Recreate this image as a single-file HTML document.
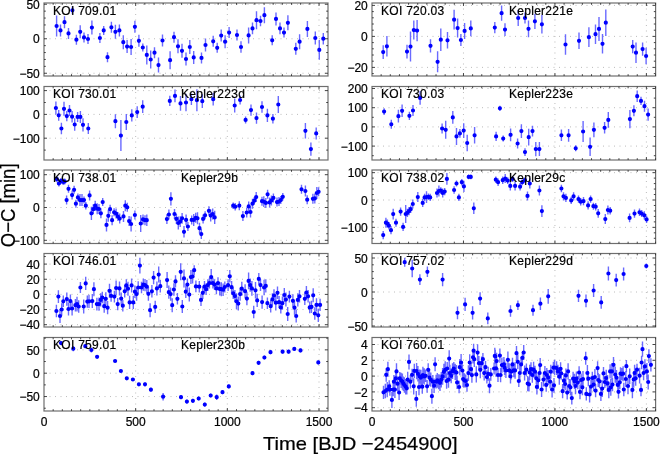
<!DOCTYPE html>
<html><head><meta charset="utf-8"><style>
html,body{margin:0;padding:0;background:#fff;}
body{width:660px;height:454px;overflow:hidden;}
svg{display:block;will-change:transform;}
text{font-family:"Liberation Sans",sans-serif;fill:#000;stroke:#000;stroke-width:0.22px;}
.tl{font-size:12px;}
.pl{font-size:12px;letter-spacing:0.28px;}
.ax{font-size:18.5px;}
</style></head><body>
<svg width="660" height="454" viewBox="0 0 660 454">
<path d="M135.67 3V76M227.33 3V76M319 3V76M44 4.25H328M44 38.75H328M44 73.25H328M135.67 86.5V160M227.33 86.5V160M319 86.5V160M44 90.6H328M44 114.4H328M44 138.2H328M135.67 170V243.5M227.33 170V243.5M319 170V243.5M44 174.7H328M44 207.5H328M44 240.3H328M135.67 253.5V327M227.33 253.5V327M319 253.5V327M44 264.1H328M44 279.25H328M44 294.4H328M44 309.55H328M44 324.7H328M135.67 337.5V411M227.33 337.5V411M319 337.5V411M44 349.85H328M44 373.2H328M44 396.55H328M463.47 3V76M554.93 3V76M646.4 3V76M372 5.4H655.6M372 36.4H655.6M372 67.4H655.6M463.47 86.5V160M554.93 86.5V160M646.4 86.5V160M372 88.5H655.6M372 107.7H655.6M372 126.9H655.6M372 146.1H655.6M463.47 170V243.5M554.93 170V243.5M646.4 170V243.5M372 172.65H655.6M372 200H655.6M372 227.35H655.6M463.47 253.5V327M554.93 253.5V327M646.4 253.5V327M372 258H655.6M372 292H655.6M372 326H655.6M463.47 337.5V411M554.93 337.5V411M646.4 337.5V411M372 344.5H655.6M372 360.3H655.6M372 376.1H655.6M372 391.9H655.6M372 407.7H655.6" stroke="#b4b4b4" stroke-width="0.9" stroke-dasharray="1 4.5" fill="none"/>
<path d="M56.6 15.5V36.5M60.5 24.4V36.4M64.5 16.2V28.2M68.5 27.9V38.9M72.4 6.3V14.3M76.4 34.7V44.7M80.2 25.3V38.3M84 32.4V42.4M88 34V44M91.9 20.6V34.6M99.9 33V43M103.7 25.9V34.9M107.5 52.2V62.2M111.4 21.8V32.8M115.4 24.8V38.8M119.4 24.4V36.4M123.3 35.2V49.2M127.1 40.1V53.1M131.1 39V55M134.9 20.8V32.8M138.9 34.8V46.8M142.8 43.5V51.5M146.8 45.4V64.4M150.7 50.5V68.5M154.5 47.2V58.2M158.5 57.6V72.6M162.5 34.5V46.5M170.1 51.2V69.2M174 31.7V42.7M178 39.3V53.3M182 43.8V57.8M186 52.5V65.5M189.8 40V54M193.7 50.9V63.9M201.5 52.4V63.4M205.5 38.5V51.5M213.2 35.8V46.8M217.2 42.8V52.8M221.2 29.6V41.6M225.1 35.2V48.2M229.1 27.1V38.1M237 29.5V40.5M241 41.2V52.8M248.6 27.4V43.4M252.5 22.6V34.2M256.5 11.2V29.2M260.5 15.8V26.2M264.4 7.2V23.2M272.2 35.3V45.3M276 12.4V25.4M280 22.6V34.2M284 27.6V37.6M287.9 15.3V30.3M295.8 42.8V54.8M299.6 34.2V49.2M307.4 20.9V36.9M315.3 31.4V44.6M319.3 40.1V59.7M323.3 32.9V44.5M55.9 101.6V114.4M58.7 109.9V120.7M61.4 122.7V134.3M64 101.8V115.8M66.8 110.9V121.3M69.5 105.1V115.9M72.1 110.9V122.5M74.7 118.3V130.7M77.6 111.9V121.9M80.4 110.9V122.9M83 118.2V131.4M88.3 123.1V133.9M115.4 114.2V128.2M120.9 120.1V151.1M126.3 114V130M131.8 109.2V121.6M137.2 106.3V117.9M142.7 100.3V113.1M169.8 95.7V106.1M175 89.6V102.2M180.5 96.1V110.7M186 93.8V111.2M191.4 93.4V105M196.9 89.2V111.2M202.3 94.3V108.1M213.2 92.8V105.6M234.7 98.5V112.5M240.1 95.5V104.5M245.6 116.4V123.4M251 104.5V115.7M256.5 112.5V123.7M262 101.2V112.8M267.4 108.8V122M272.9 113.9V123.5M278.3 96.1V112.9M305.4 123.1V138.5M310.9 142.5V155.7M316.2 127.4V139.4M56.9 176.2V182.2M58.9 180.5V186.5M61 177.9V183.9M63.2 178.9V184.9M64.7 178.4V184.4M68.5 184.8V192.8M66.6 195.6V204.6M72.1 190.6V199.6M74.1 185.8V193.8M75.9 199.7V207.7M77.9 193.4V201.4M80 194.1V206.1M82 194.1V206.1M84 196.6V203.6M85.8 201.9V209.5M89.6 190.4V200.4M91.4 206.7V219.9M93.3 204.2V214.2M95.2 200.7V210.7M97.2 203.2V214.2M99 204V214M100.9 208.3V218.3M102.7 198.1V206.1M106.5 218.4V231.4M108.3 209.8V221.8M110.1 204.7V213.7M112.1 215.2V225.2M114.1 208.3V216.3M116.1 208.6V218.6M117.9 212.1V221.1M119.7 213.6V223.6M123.5 210.9V221.9M125.3 200.2V211.2M127.3 202.8V211.8M129.1 216.1V226.1M131.1 216.5V231.5M134.9 210.5V219.5M140.7 215V232M143 214.4V224.4M145 215.2V225.2M146.8 214.4V226M166.9 214.3V223.9M168.9 209.5V219.5M170.9 192.2V205.4M174.5 209V219M176.4 213.9V223.9M178.3 216.4V229.6M180.2 216.2V227M182.1 212.9V223.7M184 226V237.6M186.1 214.5V225.3M187.9 222V231M191.7 215.4V224.4M193.7 213.9V225.9M195.7 212.8V222.8M197.5 212.3V224.3M199.5 222.8V233.6M201.3 229.1V239.1M203.1 214.4V223.4M205.1 211.3V219.3M208.9 206.3V215.3M210.7 209.6V221.6M212.7 208.6V219.4M214.7 210.8V224M233.2 202.4V209M235.2 203V210.4M239.3 201.2V210.2M242.9 211.1V221.1M246.7 207.5V217.5M248.7 201.4V211.4M250.5 206.6V217.4M252.5 198.7V208.7M254.3 196.9V204.5M256.2 192.1V202.1M262 196.7V205.7M263.8 196.2V207M265.8 197.9V207.9M267.6 189.8V198.8M269.6 197.4V207.4M271.4 195.4V205.4M273.4 193.4V202.4M277 197.6V206.6M279 197.1V206.1M280.8 196.1V204.1M282.8 193V200.6M301.5 184.8V193.8M305.4 185.6V196.4M307.2 195.2V204.2M312.9 193.8V203.8M314.8 193.4V203.4M316.8 187V199M318.6 187.3V196.3M56.4 304.7V317.3M58.4 290.2V303M60 309V323M61.7 303.3V315.7M63.3 295.5V307.1M66.8 292.5V305.7M68.5 302.4V315.6M70.4 294.5V307.7M72.1 301.5V315.5M75.4 299V311.4M77 296.7V311.5M78.7 300.3V312.7M80.4 282.1V292.9M83.7 299.5V313.5M85.7 276.8V290M87.3 295.4V307.8M89 294.7V307.9M92.3 294.1V308.1M93.9 282.2V296.2M96.9 297.7V310.5M99 297.5V310.7M100.7 293.3V306.5M102.3 291.7V303.3M104.2 299.6V312.8M105.8 292.2V305.4M107.6 301.1V314.3M109.5 283.8V297.8M111.1 289.8V301.8M114.4 290.8V302.4M116.1 280.6V295.4M117.7 297.9V310.3M119.5 281.4V295.4M121.2 292.4V304.8M122.8 299.9V311.5M124.7 285.1V297.5M126.3 279.2V291.6M128 281.7V295.7M129.6 295.8V309M131.6 278.4V292.4M133.3 295.8V309M134.9 285.5V297.9M136.6 287.5V300.7M138.2 281.3V293.7M139.9 257.8V273.4M141.5 281.7V293.3M143.3 278.4V290.8M145 278.9V291.3M146.8 280.1V293.3M148.4 286.8V300.8M150.1 303.2V317.2M151.9 285.1V297.5M153.6 271V284.2M155.2 300.7V313.1M156.9 281.4V295.4M158.7 266.6V282.6M160.3 280V292.4M167.1 272.1V288.1M168.8 285.6V298.8M170.6 287.5V300.7M172.2 298.2V312.2M173.9 283.3V295.7M175.5 275.2V287.6M177.4 293V304.6M180.7 263.3V280.3M182.3 299.9V313.1M184 269.4V287.4M185.8 285.5V297.9M187.4 278.4V290.8M189.3 287.6V301.6M190.9 270.1V284.1M192.6 269.5V283.5M194.2 265.2V275.2M195.9 280.6V292.2M199.3 280.9V292.5M201 293.7V306.1M202.8 286.6V299M204.5 280.9V292.5M206.1 283.4V295M207.8 279.3V290.9M209.4 277.7V288.5M211.2 269.1V285.1M212.9 277.7V288.5M214.5 279.2V290M216.4 282.6V294.2M218 277.3V288.9M219.7 282.3V295.5M221.3 282.2V296.2M223.1 283.5V295.9M224.8 281.6V292.4M228.1 279.3V290.9M229.8 270.1V282.5M231.6 281V293.4M233.2 287.5V299.1M234.9 289.9V302.3M236.5 293.3V309.3M238.3 296.6V310.6M240.1 287.5V300.7M241.8 281.7V295.7M245.1 284.2V298.2M246.9 292V305.2M248.6 272.6V289.2M250.2 278.5V291.7M251.9 281V295.8M253.7 305.8V318.2M255.5 282V298.6M257.2 293.8V307M258.8 273.1V284.7M260.5 279.3V290.9M262.1 295.5V308.7M264.1 279.7V295.3M265.8 279.3V292.5M267.4 297.4V309M270.7 300V312.4M272.4 293.2V305.6M274 289.3V301.7M275.8 294.9V310.5M277.5 286.6V299M279.1 295.9V308.3M280.8 301.2V313.6M282.4 296.6V309.8M284.3 288V302M285.9 292.6V306.6M287.7 307V321M289.4 290.8V302.4M292.9 294.2V307.4M294.5 300.7V314.7M296.2 309.4V322.6M297.8 293.3V306.5M299.5 290.1V302.5M304.8 292.6V305M306.4 285.9V299.1M308.1 290.1V302.5M309.7 301.6V313.2M311.5 300.7V313.1M313.2 288.3V302.3M314.8 307.3V319.7M316.5 298.3V311.5M318.3 308.7V321.9M320.1 298.7V311.1M61 341.1V345.1M73.3 346.2V351.2M85.3 344.2V348.2M91.4 347.5V352.5M97.1 355.3V358.3M115.1 359.5V362.5M120.9 369.5V372.5M126.8 376.8V379.8M132.9 378V381M138.9 382.8V385.8M145 382.3V386.3M150.9 387.7V391.7M163.1 393V400.4M181 395.2V399.2M186.9 399.6V403.6M192.9 398.8V402.8M198.7 396.5V400.5M204.8 402.6V406.6M210.7 393.5V397.5M216.7 394.4V400M222.5 390.2V394.2M228.8 384.4V388.4M252.5 371.2V375.2M258.6 360.8V364.8M264.4 355.5V359.5M270.5 350.2V354.2M282.6 349.7V353.7M288.6 349.7V353.7M294.3 346.9V350.9M300.5 348.4V352.4M318.3 360.4V364.4M383.2 45.2V59M386.9 36V56.6M407 44.7V58.5M410.5 31.6V61.6M413.8 20.6V39.6M417.1 19.9V41.3M430.5 39.2V52.4M437.6 51.3V72.3M440.8 28.4V51M447.5 32.1V48.5M454.1 9.8V29.6M457.6 18.6V37.6M460.9 34V46M464.6 22.9V38.9M470.8 20.6V36.2M494.8 22V33.2M501.6 5.6V20.8M505 23.2V36M518.2 10V26M525 12.6V23.4M528.5 20.4V37.2M534.9 13.7V28.9M541.9 15V33.6M565.5 34.2V54.8M579 32.5V49.1M588.9 27.3V47.1M595.5 24.5V43.9M599 16.9V40.9M602.5 34.1V53.5M605.8 9.5V35.9M632.7 40V53.2M636 42.4V63M642.6 42.5V55.7M646.1 47.7V64.3M384.1 108.3V114.9M391.3 119.8V128.8M398.4 109.8V122.6M402.1 104.6V117M409.4 111.7V119.9M413 105.1V115.9M420.1 91V104.8M442.1 123.5V133.5M445.7 120.8V138.8M452.8 111.1V123.7M456.5 127.9V144.9M459.9 129V137.8M463.7 123.2V138M467.2 134.7V151.3M474.6 127V143.6M496.1 131.7V141.1M499.9 105.8V110.8M503.2 135.6V141.6M510.6 128.4V141.2M517.6 138.4V148.6M521.4 124.2V138M525 148.2V156M528.7 128.8V145.6M532.5 125.7V136.5M535.8 141.9V156.3M539.4 142.1V156.1M561.4 129.5V141.1M568.6 128.9V141.7M575.7 145.3V151.3M583.1 121.1V141.9M590.1 137.5V156.1M593.9 122.4V137.2M604.6 122V133.6M608.3 112V127.8M629.9 110V128.2M633.9 105.3V116.3M637.2 90.4V102M641 96.8V105M644.5 100.7V111.7M648.1 108.4V120.8M383.2 231V239.2M385.9 217.7V227.7M387.4 219.5V227.5M388.9 222V229.4M391 226.1V234.3M393.2 208.7V219.5M396 218.7V226.7M400.6 207.5V215.7M403.1 222.8V231M405.7 205V223M407.4 208.7V216.9M409 207V215.2M410.7 205.5V212.9M412.8 199.6V208.4M417.8 192.1V202.1M422.7 198.8V207M424.6 193.7V201.1M426.5 191.3V202.9M428.4 193.5V200.1M430.2 193.7V201.1M437 188.5V197.5M438.9 185.5V196.5M440.8 187.2V193.8M442.7 188.5V197.5M444.7 187.9V195.3M446.9 173.1V184.7M454.1 186.3V193.7M456.5 180.4V186.6M458.9 193.7V201.1M461.8 178.9V185.5M463.9 180.8V192M468.7 174.6V179.2M470.8 174.6V179.2M473.8 202.5V214.1M495.8 176.4V183M498.1 178.5V185.9M502.7 176.5V183.9M505.2 174.1V183.1M507.7 177.3V183.9M510.3 181.4V190.4M512.6 175.9V181.9M515.1 181.4V190.4M520.1 183V190.4M522.2 179.2V185.2M525 177.2V183.2M527.5 191.4V200.4M529.8 178.5V188.5M539.4 185.4V195.6M541.9 205.3V216.9M561.4 184.8V192.2M563.5 192.2V200.4M565.9 193.8V202M571.2 196.7V204.1M573.6 192.2V200.4M578.5 195.4V202.8M580.7 198V205.4M583.5 197.1V205.3M588.1 201.3V209.5M590.6 195.4V202.8M593.4 202.7V209.7M595.7 203V210.4M598.2 208.9V217.7M605.3 214.1V224.1M607.9 205.5V214.5M610.2 207V214.4M629.6 213.6V222.2M634.5 209.5V217.7M639.5 208.6V216M641.7 210.1V217.1M644.3 211.2V219.4M646.6 215.7V223.1M404.7 257.7V266.7M412.2 259.7V277.3M419.9 274.2V285M427.4 266.5V277.1M442.6 273V286.2M457.5 306.4V319.2M465.1 297.8V311M472.6 306.2V319.4M480.1 292.2V305M487.8 312.6V324.2M510.5 305.2V316.8M517.9 300.4V310M533 304.7V315.7M540.4 297.5V309.9M548.2 288.9V303.7M578.5 289.7V301.9M586 294.4V307.2M593.6 284.1V296.9M601.2 296V308.8M608.4 266.5V280.5M616.2 273.8V286.4M623.6 267.6V280.4M646.3 263.5V268.5M383.5 385.71V398.89M385.3 383.64V398.36M386.2 367.88V381.72M387.9 361.69V376.71M387.2 382.04V397.16M389.2 380.14V392.46M389.9 383.57V395.63M391.9 391.81V407.99M393.2 382.95V396.25M393.9 375.11V388.29M394.9 381.11V398.09M395.8 371.22V385.58M396.5 363.31V379.49M397.6 376.51V390.89M399.1 384.9V400.1M399.8 372.02V384.78M401.1 372.81V387.99M402.4 373.53V389.87M403.4 376.39V391.01M404.4 377.15V392.85M405.7 379.02V394.38M406.8 382.14V394.46M407.7 371.8V387.6M409 354.42V369.38M410.4 374.95V388.45M412.1 368.72V380.88M413.7 378.14V394.46M414.3 363.72V378.08M416.3 391.1V406.7M416.6 362.9V379.3M417.9 366.01V381.59M419 378.7V395.3M419.6 369.41V383.39M420.9 369.7V385.7M422.3 379.59V393.81M422.9 366.76V383.44M424.2 368.2V384.6M425.6 369.56V382.04M427.1 379.96V392.64M428.2 363.26V376.34M429.5 369.29V386.11M430.8 372.61V386.79M431.9 388.63V403.77M432.8 374.95V388.45M434.1 378.43V392.97M435.1 357.34V371.26M436.1 374.82V388.58M437.3 372.94V387.86M438.6 374.24V389.16M440 374.54V391.06M441.3 372V387.4M442.6 368.08V384.72M443.9 363.66V379.94M445.2 361.32V378.28M446.6 373.32V388.68M447.2 362.09V374.91M448.5 371.55V387.85M449.2 350.19V367.01M449.9 364.84V381.36M451.2 368.38V383.22M452.5 363.32V378.88M453.8 361.97V375.03M455.2 363.72V379.88M456.5 365.07V379.93M457.1 375.69V389.11M459.1 380.84V393.16M459.8 359.07V375.33M461.1 354.03V370.97M462.4 364.28V376.72M463.1 371.1V387.1M464.4 373.37V387.43M465.7 374.62V387.38M467 378.27V391.73M468.4 365.18V381.02M469.7 354.32V370.68M471 363.09V375.31M471.9 367.56V382.64M473 351.19V363.41M474.3 351.4V367M473.6 343.87V357.53M476.3 366.2V382.6M477.6 344.15V361.05M478.9 355.94V370.46M480.3 361.3V378.3M481.6 356.43V369.97M482.9 353.01V365.39M484.2 365.6V380.6M485.5 361.12V373.28M486.9 370.61V383.59M488.2 366.78V380.82M489.5 378.17V393.23M490.8 368.01V380.79M494.1 362.39V374.61M494.8 347.73V364.07M495.3 349.72V363.28M496.6 352.7V369.5M496 360.16V376.64M498 368.06V381.94M499.9 348.45V362.75M500.6 367.7V382.3M501.9 357.49V372.71M503.9 356.91V371.89M504.6 360.3V375.1M505.9 362.85V377.95M507.9 351.45V368.15M509.2 363.13V377.67M510.5 369.22V383.38M511.2 363.9V379.5M512.5 357.81V370.99M513.8 363.65V377.15M515.1 361.96V378.84M516.5 345.9V360.5M517.8 354.43V369.17M518.8 374.97V387.03M519.8 365.96V380.04M521.1 356.95V371.85M522.4 351.75V363.85M523.7 344.96V360.04M524.6 365.42V380.58M526.4 363.55V375.85M527.7 376.03V391.17M529 377.13V391.47M529.7 364.7V380.1M531 362.22V375.98M532.3 367.23V382.77M533.6 361.85V377.55M535 365.64V377.76M536.3 372.15V384.45M536.9 379.21V394.59M538.3 371.89V388.71M539.6 366.37V379.63M540.2 357.96V372.24M541.6 382.02V396.98M543.5 372.8V386.4M544.9 366.09V379.91M546.2 378.12V391.68M546.8 368.08V381.92M548.2 370.11V385.09M550.1 374.85V388.35M550.8 364.76V378.64M552.1 381.57V397.43M553.4 361.63V373.77M554 377.88V392.72M554.6 359.66V375.34M556.6 361.32V374.88M557.9 364.84V377.96M559.3 368.69V384.71M560.6 362.2V375.4M561.2 366.93V379.87M562.6 384.11V398.29M563.9 372.95V388.45M565.2 377.75V390.25M565.9 368.6V382.2M567.2 385.77V399.43M568.1 363.32V379.48M569.2 378.9V393.1M570.5 379.16V395.44M571.8 391.68V404.52M573.1 371.86V385.54M574.5 373.67V388.93M575.5 377.79V394.21M576.4 371.57V385.83M577.8 376.04V389.16M579.1 366.2V378.8M580 384.58V399.22M581.1 373.52V386.48M582.4 379.28V395.32M583 371V387.2M585.7 351.74V364.66M586.3 387.2V400.6M587.4 364.98V381.02M588.3 371.1V386.3M589.6 386.48V402.52M591 379.74V393.46M592.3 371.68V384.32M593.6 377.87V391.33M594.9 369.02V384.98M595.6 383.92V397.28M597.6 361.23V374.97M598.2 372.96V387.04M599.6 374.25V388.35M600.9 386.88V400.92M602.2 380.3V396.9M603.5 367.01V379.79M604.8 375.99V388.01M606.2 369.64V386.36M607.5 375.1V391.5M608.8 381.43V398.37M610.1 364.31V378.49M610.8 378.92V395.68M611.9 363.08V379.72M612.5 378.04V391.16M613.5 356.94V372.66M615.2 366.51V382.69M616.5 369.94V385.26M617.8 377.6V392.2M618.5 385.08V398.52M619.8 375.45V389.15M620.5 367.13V380.27M621.8 367.93V380.27M623.1 366.23V381.17M623.8 382.78V396.22M625.8 370.97V387.03M626.4 360.09V372.31M628 377.74V394.26M629.7 368.57V384.03M632.4 381.59V398.21M633.7 371.16V387.64M634.6 364.75V381.25M635.7 370.86V385.74M637 363.67V375.73M639.6 367.84V383.56M641 383.47V396.33M641.6 355.75V369.25M642.5 341.54V356.86M643.6 365.69V380.31M644.9 359.37V373.43M646.9 363.05V379.75M648.2 374.47V389.53M648.9 349.25V362.95M650.9 358.17V371.43" stroke="#6a6aff" stroke-width="1.4" fill="none"/>
<path d="M56.6 26h0M60.5 30.4h0M64.5 22.2h0M68.5 33.4h0M72.4 10.3h0M76.4 39.7h0M80.2 31.8h0M84 37.4h0M88 39h0M91.9 27.6h0M99.9 38h0M103.7 30.4h0M107.5 57.2h0M111.4 27.3h0M115.4 31.8h0M119.4 30.4h0M123.3 42.2h0M127.1 46.6h0M131.1 47h0M134.9 26.8h0M138.9 40.8h0M142.8 47.5h0M146.8 54.9h0M150.7 59.5h0M154.5 52.7h0M158.5 65.1h0M162.5 40.5h0M170.1 60.2h0M174 37.2h0M178 46.3h0M182 50.8h0M186 59h0M189.8 47h0M193.7 57.4h0M201.5 57.9h0M205.5 45h0M213.2 41.3h0M217.2 47.8h0M221.2 35.6h0M225.1 41.7h0M229.1 32.6h0M237 35h0M241 47h0M248.6 35.4h0M252.5 28.4h0M256.5 20.2h0M260.5 21h0M264.4 15.2h0M272.2 40.3h0M276 18.9h0M280 28.4h0M284 32.6h0M287.9 22.8h0M295.8 48.8h0M299.6 41.7h0M307.4 28.9h0M315.3 38h0M319.3 49.9h0M323.3 38.7h0M55.9 108h0M58.7 115.3h0M61.4 128.5h0M64 108.8h0M66.8 116.1h0M69.5 110.5h0M72.1 116.7h0M74.7 124.5h0M77.6 116.9h0M80.4 116.9h0M83 124.8h0M88.3 128.5h0M115.4 121.2h0M120.9 135.6h0M126.3 122h0M131.8 115.4h0M137.2 112.1h0M142.7 106.7h0M169.8 100.9h0M175 95.9h0M180.5 103.4h0M186 102.5h0M191.4 99.2h0M196.9 100.2h0M202.3 101.2h0M213.2 99.2h0M234.7 105.5h0M240.1 100h0M245.6 119.9h0M251 110.1h0M256.5 118.1h0M262 107h0M267.4 115.4h0M272.9 118.7h0M278.3 104.5h0M305.4 130.8h0M310.9 149.1h0M316.2 133.4h0M56.9 179.2h0M58.9 183.5h0M61 180.9h0M63.2 181.9h0M64.7 181.4h0M68.5 188.8h0M66.6 200.1h0M72.1 195.1h0M74.1 189.8h0M75.9 203.7h0M77.9 197.4h0M80 200.1h0M82 200.1h0M84 200.1h0M85.8 205.7h0M89.6 195.4h0M91.4 213.3h0M93.3 209.2h0M95.2 205.7h0M97.2 208.7h0M99 209h0M100.9 213.3h0M102.7 202.1h0M106.5 224.9h0M108.3 215.8h0M110.1 209.2h0M112.1 220.2h0M114.1 212.3h0M116.1 213.6h0M117.9 216.6h0M119.7 218.6h0M123.5 216.4h0M125.3 205.7h0M127.3 207.3h0M129.1 221.1h0M131.1 224h0M134.9 215h0M140.7 223.5h0M143 219.4h0M145 220.2h0M146.8 220.2h0M166.9 219.1h0M168.9 214.5h0M170.9 198.8h0M174.5 214h0M176.4 218.9h0M178.3 223h0M180.2 221.6h0M182.1 218.3h0M184 231.8h0M186.1 219.9h0M187.9 226.5h0M191.7 219.9h0M193.7 219.9h0M195.7 217.8h0M197.5 218.3h0M199.5 228.2h0M201.3 234.1h0M203.1 218.9h0M205.1 215.3h0M208.9 210.8h0M210.7 215.6h0M212.7 214h0M214.7 217.4h0M233.2 205.7h0M235.2 206.7h0M239.3 205.7h0M242.9 216.1h0M246.7 212.5h0M248.7 206.4h0M250.5 212h0M252.5 203.7h0M254.3 200.7h0M256.2 197.1h0M262 201.2h0M263.8 201.6h0M265.8 202.9h0M267.6 194.3h0M269.6 202.4h0M271.4 200.4h0M273.4 197.9h0M277 202.1h0M279 201.6h0M280.8 200.1h0M282.8 196.8h0M301.5 189.3h0M305.4 191h0M307.2 199.7h0M312.9 198.8h0M314.8 198.4h0M316.8 193h0M318.6 191.8h0M56.4 311h0M58.4 296.6h0M60 316h0M61.7 309.5h0M63.3 301.3h0M66.8 299.1h0M68.5 309h0M70.4 301.1h0M72.1 308.5h0M75.4 305.2h0M77 304.1h0M78.7 306.5h0M80.4 287.5h0M83.7 306.5h0M85.7 283.4h0M87.3 301.6h0M89 301.3h0M92.3 301.1h0M93.9 289.2h0M96.9 304.1h0M99 304.1h0M100.7 299.9h0M102.3 297.5h0M104.2 306.2h0M105.8 298.8h0M107.6 307.7h0M109.5 290.8h0M111.1 295.8h0M114.4 296.6h0M116.1 288h0M117.7 304.1h0M119.5 288.4h0M121.2 298.6h0M122.8 305.7h0M124.7 291.3h0M126.3 285.4h0M128 288.7h0M129.6 302.4h0M131.6 285.4h0M133.3 302.4h0M134.9 291.7h0M136.6 294.1h0M138.2 287.5h0M139.9 265.6h0M141.5 287.5h0M143.3 284.6h0M145 285.1h0M146.8 286.7h0M148.4 293.8h0M150.1 310.2h0M151.9 291.3h0M153.6 277.6h0M155.2 306.9h0M156.9 288.4h0M158.7 274.6h0M160.3 286.2h0M167.1 280.1h0M168.8 292.2h0M170.6 294.1h0M172.2 305.2h0M173.9 289.5h0M175.5 281.4h0M177.4 298.8h0M180.7 271.8h0M182.3 306.5h0M184 278.4h0M185.8 291.7h0M187.4 284.6h0M189.3 294.6h0M190.9 277.1h0M192.6 276.5h0M194.2 270.2h0M195.9 286.4h0M199.3 286.7h0M201 299.9h0M202.8 292.8h0M204.5 286.7h0M206.1 289.2h0M207.8 285.1h0M209.4 283.1h0M211.2 277.1h0M212.9 283.1h0M214.5 284.6h0M216.4 288.4h0M218 283.1h0M219.7 288.9h0M221.3 289.2h0M223.1 289.7h0M224.8 287h0M228.1 285.1h0M229.8 276.3h0M231.6 287.2h0M233.2 293.3h0M234.9 296.1h0M236.5 301.3h0M238.3 303.6h0M240.1 294.1h0M241.8 288.7h0M245.1 291.2h0M246.9 298.6h0M248.6 280.9h0M250.2 285.1h0M251.9 288.4h0M253.7 312h0M255.5 290.3h0M257.2 300.4h0M258.8 278.9h0M260.5 285.1h0M262.1 302.1h0M264.1 287.5h0M265.8 285.9h0M267.4 303.2h0M270.7 306.2h0M272.4 299.4h0M274 295.5h0M275.8 302.7h0M277.5 292.8h0M279.1 302.1h0M280.8 307.4h0M282.4 303.2h0M284.3 295h0M285.9 299.6h0M287.7 314h0M289.4 296.6h0M292.9 300.8h0M294.5 307.7h0M296.2 316h0M297.8 299.9h0M299.5 296.3h0M304.8 298.8h0M306.4 292.5h0M308.1 296.3h0M309.7 307.4h0M311.5 306.9h0M313.2 295.3h0M314.8 313.5h0M316.5 304.9h0M318.3 315.3h0M320.1 304.9h0M61 343.1h0M73.3 348.7h0M85.3 346.2h0M91.4 350h0M97.1 356.8h0M115.1 361h0M120.9 371h0M126.8 378.3h0M132.9 379.5h0M138.9 384.3h0M145 384.3h0M150.9 389.7h0M163.1 396.7h0M181 397.2h0M186.9 401.6h0M192.9 400.8h0M198.7 398.5h0M204.8 404.6h0M210.7 395.5h0M216.7 397.2h0M222.5 392.2h0M228.8 386.4h0M252.5 373.2h0M258.6 362.8h0M264.4 357.5h0M270.5 352.2h0M282.6 351.7h0M288.6 351.7h0M294.3 348.9h0M300.5 350.4h0M318.3 362.4h0M383.2 52.1h0M386.9 46.3h0M407 51.6h0M410.5 46.6h0M413.8 30.1h0M417.1 30.6h0M430.5 45.8h0M437.6 61.8h0M440.8 39.7h0M447.5 40.3h0M454.1 19.7h0M457.6 28.1h0M460.9 40h0M464.6 30.9h0M470.8 28.4h0M494.8 27.6h0M501.6 13.2h0M505 29.6h0M518.2 18h0M525 18h0M528.5 28.8h0M534.9 21.3h0M541.9 24.3h0M565.5 44.5h0M579 40.8h0M588.9 37.2h0M595.5 34.2h0M599 28.9h0M602.5 43.8h0M605.8 22.7h0M632.7 46.6h0M636 52.7h0M642.6 49.1h0M646.1 56h0M384.1 111.6h0M391.3 124.3h0M398.4 116.2h0M402.1 110.8h0M409.4 115.8h0M413 110.5h0M420.1 97.9h0M442.1 128.5h0M445.7 129.8h0M452.8 117.4h0M456.5 136.4h0M459.9 133.4h0M463.7 130.6h0M467.2 143h0M474.6 135.3h0M496.1 136.4h0M499.9 108.3h0M503.2 138.6h0M510.6 134.8h0M517.6 143.5h0M521.4 131.1h0M525 152.1h0M528.7 137.2h0M532.5 131.1h0M535.8 149.1h0M539.4 149.1h0M561.4 135.3h0M568.6 135.3h0M575.7 148.3h0M583.1 131.5h0M590.1 146.8h0M593.9 129.8h0M604.6 127.8h0M608.3 119.9h0M629.9 119.1h0M633.9 110.8h0M637.2 96.2h0M641 100.9h0M644.5 106.2h0M648.1 114.6h0M383.2 235.1h0M385.9 222.7h0M387.4 223.5h0M388.9 225.7h0M391 230.2h0M393.2 214.1h0M396 222.7h0M400.6 211.6h0M403.1 226.9h0M405.7 214h0M407.4 212.8h0M409 211.1h0M410.7 209.2h0M412.8 204h0M417.8 197.1h0M422.7 202.9h0M424.6 197.4h0M426.5 197.1h0M428.4 196.8h0M430.2 197.4h0M437 193h0M438.9 191h0M440.8 190.5h0M442.7 193h0M444.7 191.6h0M446.9 178.9h0M454.1 190h0M456.5 183.5h0M458.9 197.4h0M461.8 182.2h0M463.9 186.4h0M468.7 176.9h0M470.8 176.9h0M473.8 208.3h0M495.8 179.7h0M498.1 182.2h0M502.7 180.2h0M505.2 178.6h0M507.7 180.6h0M510.3 185.9h0M512.6 178.9h0M515.1 185.9h0M520.1 186.7h0M522.2 182.2h0M525 180.2h0M527.5 195.9h0M529.8 183.5h0M539.4 190.5h0M541.9 211.1h0M561.4 188.5h0M563.5 196.3h0M565.9 197.9h0M571.2 200.4h0M573.6 196.3h0M578.5 199.1h0M580.7 201.7h0M583.5 201.2h0M588.1 205.4h0M590.6 199.1h0M593.4 206.2h0M595.7 206.7h0M598.2 213.3h0M605.3 219.1h0M607.9 210h0M610.2 210.7h0M629.6 217.9h0M634.5 213.6h0M639.5 212.3h0M641.7 213.6h0M644.3 215.3h0M646.6 219.4h0M404.7 262.2h0M412.2 268.5h0M419.9 279.6h0M427.4 271.8h0M442.6 279.6h0M457.5 312.8h0M465.1 304.4h0M472.6 312.8h0M480.1 298.6h0M487.8 318.4h0M510.5 311h0M517.9 305.2h0M533 310.2h0M540.4 303.7h0M548.2 296.3h0M578.5 295.8h0M586 300.8h0M593.6 290.5h0M601.2 302.4h0M608.4 273.5h0M616.2 280.1h0M623.6 274h0M646.3 266h0M383.5 392.3h0M385.3 391h0M386.2 374.8h0M387.9 369.2h0M387.2 389.6h0M389.2 386.3h0M389.9 389.6h0M391.9 399.9h0M393.2 389.6h0M393.9 381.7h0M394.9 389.6h0M395.8 378.4h0M396.5 371.4h0M397.6 383.7h0M399.1 392.5h0M399.8 378.4h0M401.1 380.4h0M402.4 381.7h0M403.4 383.7h0M404.4 385h0M405.7 386.7h0M406.8 388.3h0M407.7 379.7h0M409 361.9h0M410.4 381.7h0M412.1 374.8h0M413.7 386.3h0M414.3 370.9h0M416.3 398.9h0M416.6 371.1h0M417.9 373.8h0M419 387h0M419.6 376.4h0M420.9 377.7h0M422.3 386.7h0M422.9 375.1h0M424.2 376.4h0M425.6 375.8h0M427.1 386.3h0M428.2 369.8h0M429.5 377.7h0M430.8 379.7h0M431.9 396.2h0M432.8 381.7h0M434.1 385.7h0M435.1 364.3h0M436.1 381.7h0M437.3 380.4h0M438.6 381.7h0M440 382.8h0M441.3 379.7h0M442.6 376.4h0M443.9 371.8h0M445.2 369.8h0M446.6 381h0M447.2 368.5h0M448.5 379.7h0M449.2 358.6h0M449.9 373.1h0M451.2 375.8h0M452.5 371.1h0M453.8 368.5h0M455.2 371.8h0M456.5 372.5h0M457.1 382.4h0M459.1 387h0M459.8 367.2h0M461.1 362.5h0M462.4 370.5h0M463.1 379.1h0M464.4 380.4h0M465.7 381h0M467 385h0M468.4 373.1h0M469.7 362.5h0M471 369.2h0M471.9 375.1h0M473 357.3h0M474.3 359.2h0M473.6 350.7h0M476.3 374.4h0M477.6 352.6h0M478.9 363.2h0M480.3 369.8h0M481.6 363.2h0M482.9 359.2h0M484.2 373.1h0M485.5 367.2h0M486.9 377.1h0M488.2 373.8h0M489.5 385.7h0M490.8 374.4h0M494.1 368.5h0M494.8 355.9h0M495.3 356.5h0M496.6 361.1h0M496 368.4h0M498 375h0M499.9 355.6h0M500.6 375h0M501.9 365.1h0M503.9 364.4h0M504.6 367.7h0M505.9 370.4h0M507.9 359.8h0M509.2 370.4h0M510.5 376.3h0M511.2 371.7h0M512.5 364.4h0M513.8 370.4h0M515.1 370.4h0M516.5 353.2h0M517.8 361.8h0M518.8 381h0M519.8 373h0M521.1 364.4h0M522.4 357.8h0M523.7 352.5h0M524.6 373h0M526.4 369.7h0M527.7 383.6h0M529 384.3h0M529.7 372.4h0M531 369.1h0M532.3 375h0M533.6 369.7h0M535 371.7h0M536.3 378.3h0M536.9 386.9h0M538.3 380.3h0M539.6 373h0M540.2 365.1h0M541.6 389.5h0M543.5 379.6h0M544.9 373h0M546.2 384.9h0M546.8 375h0M548.2 377.6h0M550.1 381.6h0M550.8 371.7h0M552.1 389.5h0M553.4 367.7h0M554 385.3h0M554.6 367.5h0M556.6 368.1h0M557.9 371.4h0M559.3 376.7h0M560.6 368.8h0M561.2 373.4h0M562.6 391.2h0M563.9 380.7h0M565.2 384h0M565.9 375.4h0M567.2 392.6h0M568.1 371.4h0M569.2 386h0M570.5 387.3h0M571.8 398.1h0M573.1 378.7h0M574.5 381.3h0M575.5 386h0M576.4 378.7h0M577.8 382.6h0M579.1 372.5h0M580 391.9h0M581.1 380h0M582.4 387.3h0M583 379.1h0M585.7 358.2h0M586.3 393.9h0M587.4 373h0M588.3 378.7h0M589.6 394.5h0M591 386.6h0M592.3 378h0M593.6 384.6h0M594.9 377h0M595.6 390.6h0M597.6 368.1h0M598.2 380h0M599.6 381.3h0M600.9 393.9h0M602.2 388.6h0M603.5 373.4h0M604.8 382h0M606.2 378h0M607.5 383.3h0M608.8 389.9h0M610.1 371.4h0M610.8 387.3h0M611.9 371.4h0M612.5 384.6h0M613.5 364.8h0M615.2 374.6h0M616.5 377.6h0M617.8 384.9h0M618.5 391.8h0M619.8 382.3h0M620.5 373.7h0M621.8 374.1h0M623.1 373.7h0M623.8 389.5h0M625.8 379h0M626.4 366.2h0M628 386h0M629.7 376.3h0M632.4 389.9h0M633.7 379.4h0M634.6 373h0M635.7 378.3h0M637 369.7h0M639.6 375.7h0M641 389.9h0M641.6 362.5h0M642.5 349.2h0M643.6 373h0M644.9 366.4h0M646.9 371.4h0M648.2 382h0M648.9 356.1h0M650.9 364.8h0" stroke="#0000ff" stroke-width="4.2" stroke-linecap="round" fill="none"/>
<g fill="none" stroke="#6e6e6e" stroke-width="1.2"><rect x="44" y="3" width="284" height="73"/><rect x="44" y="86.5" width="284" height="73.5"/><rect x="44" y="170" width="284" height="73.5"/><rect x="44" y="253.5" width="284" height="73.5"/><rect x="44" y="337.5" width="284" height="73.5"/><rect x="372" y="3" width="283.6" height="73"/><rect x="372" y="86.5" width="283.6" height="73.5"/><rect x="372" y="170" width="283.6" height="73.5"/><rect x="372" y="253.5" width="283.6" height="73.5"/><rect x="372" y="337.5" width="283.6" height="73.5"/></g>
<path d="M53.17 76v-1.8M53.17 3v1.8M62.33 76v-1.8M62.33 3v1.8M71.5 76v-1.8M71.5 3v1.8M80.67 76v-1.8M80.67 3v1.8M89.83 76v-1.8M89.83 3v1.8M99 76v-1.8M99 3v1.8M108.17 76v-1.8M108.17 3v1.8M117.33 76v-1.8M117.33 3v1.8M126.5 76v-1.8M126.5 3v1.8M135.67 76v-3M135.67 3v3M144.83 76v-1.8M144.83 3v1.8M154 76v-1.8M154 3v1.8M163.17 76v-1.8M163.17 3v1.8M172.33 76v-1.8M172.33 3v1.8M181.5 76v-1.8M181.5 3v1.8M190.67 76v-1.8M190.67 3v1.8M199.83 76v-1.8M199.83 3v1.8M209 76v-1.8M209 3v1.8M218.17 76v-1.8M218.17 3v1.8M227.33 76v-3M227.33 3v3M236.5 76v-1.8M236.5 3v1.8M245.67 76v-1.8M245.67 3v1.8M254.83 76v-1.8M254.83 3v1.8M264 76v-1.8M264 3v1.8M273.17 76v-1.8M273.17 3v1.8M282.33 76v-1.8M282.33 3v1.8M291.5 76v-1.8M291.5 3v1.8M300.67 76v-1.8M300.67 3v1.8M309.83 76v-1.8M309.83 3v1.8M319 76v-3M319 3v3M44 73.25h3M328 73.25h-3M44 66.35h1.8M328 66.35h-1.8M44 59.45h1.8M328 59.45h-1.8M44 52.55h1.8M328 52.55h-1.8M44 45.65h1.8M328 45.65h-1.8M44 38.75h3M328 38.75h-3M44 31.85h1.8M328 31.85h-1.8M44 24.95h1.8M328 24.95h-1.8M44 18.05h1.8M328 18.05h-1.8M44 11.15h1.8M328 11.15h-1.8M44 4.25h3M328 4.25h-3M53.17 160v-1.8M53.17 86.5v1.8M62.33 160v-1.8M62.33 86.5v1.8M71.5 160v-1.8M71.5 86.5v1.8M80.67 160v-1.8M80.67 86.5v1.8M89.83 160v-1.8M89.83 86.5v1.8M99 160v-1.8M99 86.5v1.8M108.17 160v-1.8M108.17 86.5v1.8M117.33 160v-1.8M117.33 86.5v1.8M126.5 160v-1.8M126.5 86.5v1.8M135.67 160v-3M135.67 86.5v3M144.83 160v-1.8M144.83 86.5v1.8M154 160v-1.8M154 86.5v1.8M163.17 160v-1.8M163.17 86.5v1.8M172.33 160v-1.8M172.33 86.5v1.8M181.5 160v-1.8M181.5 86.5v1.8M190.67 160v-1.8M190.67 86.5v1.8M199.83 160v-1.8M199.83 86.5v1.8M209 160v-1.8M209 86.5v1.8M218.17 160v-1.8M218.17 86.5v1.8M227.33 160v-3M227.33 86.5v3M236.5 160v-1.8M236.5 86.5v1.8M245.67 160v-1.8M245.67 86.5v1.8M254.83 160v-1.8M254.83 86.5v1.8M264 160v-1.8M264 86.5v1.8M273.17 160v-1.8M273.17 86.5v1.8M282.33 160v-1.8M282.33 86.5v1.8M291.5 160v-1.8M291.5 86.5v1.8M300.67 160v-1.8M300.67 86.5v1.8M309.83 160v-1.8M309.83 86.5v1.8M319 160v-3M319 86.5v3M44 150.1h1.8M328 150.1h-1.8M44 138.2h3M328 138.2h-3M44 126.3h1.8M328 126.3h-1.8M44 114.4h3M328 114.4h-3M44 102.5h1.8M328 102.5h-1.8M44 90.6h3M328 90.6h-3M53.17 243.5v-1.8M53.17 170v1.8M62.33 243.5v-1.8M62.33 170v1.8M71.5 243.5v-1.8M71.5 170v1.8M80.67 243.5v-1.8M80.67 170v1.8M89.83 243.5v-1.8M89.83 170v1.8M99 243.5v-1.8M99 170v1.8M108.17 243.5v-1.8M108.17 170v1.8M117.33 243.5v-1.8M117.33 170v1.8M126.5 243.5v-1.8M126.5 170v1.8M135.67 243.5v-3M135.67 170v3M144.83 243.5v-1.8M144.83 170v1.8M154 243.5v-1.8M154 170v1.8M163.17 243.5v-1.8M163.17 170v1.8M172.33 243.5v-1.8M172.33 170v1.8M181.5 243.5v-1.8M181.5 170v1.8M190.67 243.5v-1.8M190.67 170v1.8M199.83 243.5v-1.8M199.83 170v1.8M209 243.5v-1.8M209 170v1.8M218.17 243.5v-1.8M218.17 170v1.8M227.33 243.5v-3M227.33 170v3M236.5 243.5v-1.8M236.5 170v1.8M245.67 243.5v-1.8M245.67 170v1.8M254.83 243.5v-1.8M254.83 170v1.8M264 243.5v-1.8M264 170v1.8M273.17 243.5v-1.8M273.17 170v1.8M282.33 243.5v-1.8M282.33 170v1.8M291.5 243.5v-1.8M291.5 170v1.8M300.67 243.5v-1.8M300.67 170v1.8M309.83 243.5v-1.8M309.83 170v1.8M319 243.5v-3M319 170v3M44 240.3h3M328 240.3h-3M44 233.74h1.8M328 233.74h-1.8M44 227.18h1.8M328 227.18h-1.8M44 220.62h1.8M328 220.62h-1.8M44 214.06h1.8M328 214.06h-1.8M44 207.5h3M328 207.5h-3M44 200.94h1.8M328 200.94h-1.8M44 194.38h1.8M328 194.38h-1.8M44 187.82h1.8M328 187.82h-1.8M44 181.26h1.8M328 181.26h-1.8M44 174.7h3M328 174.7h-3M53.17 327v-1.8M53.17 253.5v1.8M62.33 327v-1.8M62.33 253.5v1.8M71.5 327v-1.8M71.5 253.5v1.8M80.67 327v-1.8M80.67 253.5v1.8M89.83 327v-1.8M89.83 253.5v1.8M99 327v-1.8M99 253.5v1.8M108.17 327v-1.8M108.17 253.5v1.8M117.33 327v-1.8M117.33 253.5v1.8M126.5 327v-1.8M126.5 253.5v1.8M135.67 327v-3M135.67 253.5v3M144.83 327v-1.8M144.83 253.5v1.8M154 327v-1.8M154 253.5v1.8M163.17 327v-1.8M163.17 253.5v1.8M172.33 327v-1.8M172.33 253.5v1.8M181.5 327v-1.8M181.5 253.5v1.8M190.67 327v-1.8M190.67 253.5v1.8M199.83 327v-1.8M199.83 253.5v1.8M209 327v-1.8M209 253.5v1.8M218.17 327v-1.8M218.17 253.5v1.8M227.33 327v-3M227.33 253.5v3M236.5 327v-1.8M236.5 253.5v1.8M245.67 327v-1.8M245.67 253.5v1.8M254.83 327v-1.8M254.83 253.5v1.8M264 327v-1.8M264 253.5v1.8M273.17 327v-1.8M273.17 253.5v1.8M282.33 327v-1.8M282.33 253.5v1.8M291.5 327v-1.8M291.5 253.5v1.8M300.67 327v-1.8M300.67 253.5v1.8M309.83 327v-1.8M309.83 253.5v1.8M319 327v-3M319 253.5v3M44 324.7h3M328 324.7h-3M44 317.12h1.8M328 317.12h-1.8M44 309.55h3M328 309.55h-3M44 301.97h1.8M328 301.97h-1.8M44 294.4h3M328 294.4h-3M44 286.82h1.8M328 286.82h-1.8M44 279.25h3M328 279.25h-3M44 271.67h1.8M328 271.67h-1.8M44 264.1h3M328 264.1h-3M44 256.52h1.8M328 256.52h-1.8M53.17 411v-1.8M53.17 337.5v1.8M62.33 411v-1.8M62.33 337.5v1.8M71.5 411v-1.8M71.5 337.5v1.8M80.67 411v-1.8M80.67 337.5v1.8M89.83 411v-1.8M89.83 337.5v1.8M99 411v-1.8M99 337.5v1.8M108.17 411v-1.8M108.17 337.5v1.8M117.33 411v-1.8M117.33 337.5v1.8M126.5 411v-1.8M126.5 337.5v1.8M135.67 411v-3M135.67 337.5v3M144.83 411v-1.8M144.83 337.5v1.8M154 411v-1.8M154 337.5v1.8M163.17 411v-1.8M163.17 337.5v1.8M172.33 411v-1.8M172.33 337.5v1.8M181.5 411v-1.8M181.5 337.5v1.8M190.67 411v-1.8M190.67 337.5v1.8M199.83 411v-1.8M199.83 337.5v1.8M209 411v-1.8M209 337.5v1.8M218.17 411v-1.8M218.17 337.5v1.8M227.33 411v-3M227.33 337.5v3M236.5 411v-1.8M236.5 337.5v1.8M245.67 411v-1.8M245.67 337.5v1.8M254.83 411v-1.8M254.83 337.5v1.8M264 411v-1.8M264 337.5v1.8M273.17 411v-1.8M273.17 337.5v1.8M282.33 411v-1.8M282.33 337.5v1.8M291.5 411v-1.8M291.5 337.5v1.8M300.67 411v-1.8M300.67 337.5v1.8M309.83 411v-1.8M309.83 337.5v1.8M319 411v-3M319 337.5v3M44 408.22h1.8M328 408.22h-1.8M44 396.55h3M328 396.55h-3M44 384.88h1.8M328 384.88h-1.8M44 373.2h3M328 373.2h-3M44 361.52h1.8M328 361.52h-1.8M44 349.85h3M328 349.85h-3M44 338.18h1.8M328 338.18h-1.8M381.15 76v-1.8M381.15 3v1.8M390.29 76v-1.8M390.29 3v1.8M399.44 76v-1.8M399.44 3v1.8M408.59 76v-1.8M408.59 3v1.8M417.73 76v-1.8M417.73 3v1.8M426.88 76v-1.8M426.88 3v1.8M436.03 76v-1.8M436.03 3v1.8M445.17 76v-1.8M445.17 3v1.8M454.32 76v-1.8M454.32 3v1.8M463.47 76v-3M463.47 3v3M472.61 76v-1.8M472.61 3v1.8M481.76 76v-1.8M481.76 3v1.8M490.91 76v-1.8M490.91 3v1.8M500.05 76v-1.8M500.05 3v1.8M509.2 76v-1.8M509.2 3v1.8M518.35 76v-1.8M518.35 3v1.8M527.49 76v-1.8M527.49 3v1.8M536.64 76v-1.8M536.64 3v1.8M545.79 76v-1.8M545.79 3v1.8M554.93 76v-3M554.93 3v3M564.08 76v-1.8M564.08 3v1.8M573.23 76v-1.8M573.23 3v1.8M582.37 76v-1.8M582.37 3v1.8M591.52 76v-1.8M591.52 3v1.8M600.67 76v-1.8M600.67 3v1.8M609.81 76v-1.8M609.81 3v1.8M618.96 76v-1.8M618.96 3v1.8M628.11 76v-1.8M628.11 3v1.8M637.25 76v-1.8M637.25 3v1.8M646.4 76v-3M646.4 3v3M655.55 76v-1.8M655.55 3v1.8M372 73.6h1.8M655.6 73.6h-1.8M372 67.4h3M655.6 67.4h-3M372 61.2h1.8M655.6 61.2h-1.8M372 55h1.8M655.6 55h-1.8M372 48.8h1.8M655.6 48.8h-1.8M372 42.6h1.8M655.6 42.6h-1.8M372 36.4h3M655.6 36.4h-3M372 30.2h1.8M655.6 30.2h-1.8M372 24h1.8M655.6 24h-1.8M372 17.8h1.8M655.6 17.8h-1.8M372 11.6h1.8M655.6 11.6h-1.8M372 5.4h3M655.6 5.4h-3M381.15 160v-1.8M381.15 86.5v1.8M390.29 160v-1.8M390.29 86.5v1.8M399.44 160v-1.8M399.44 86.5v1.8M408.59 160v-1.8M408.59 86.5v1.8M417.73 160v-1.8M417.73 86.5v1.8M426.88 160v-1.8M426.88 86.5v1.8M436.03 160v-1.8M436.03 86.5v1.8M445.17 160v-1.8M445.17 86.5v1.8M454.32 160v-1.8M454.32 86.5v1.8M463.47 160v-3M463.47 86.5v3M472.61 160v-1.8M472.61 86.5v1.8M481.76 160v-1.8M481.76 86.5v1.8M490.91 160v-1.8M490.91 86.5v1.8M500.05 160v-1.8M500.05 86.5v1.8M509.2 160v-1.8M509.2 86.5v1.8M518.35 160v-1.8M518.35 86.5v1.8M527.49 160v-1.8M527.49 86.5v1.8M536.64 160v-1.8M536.64 86.5v1.8M545.79 160v-1.8M545.79 86.5v1.8M554.93 160v-3M554.93 86.5v3M564.08 160v-1.8M564.08 86.5v1.8M573.23 160v-1.8M573.23 86.5v1.8M582.37 160v-1.8M582.37 86.5v1.8M591.52 160v-1.8M591.52 86.5v1.8M600.67 160v-1.8M600.67 86.5v1.8M609.81 160v-1.8M609.81 86.5v1.8M618.96 160v-1.8M618.96 86.5v1.8M628.11 160v-1.8M628.11 86.5v1.8M637.25 160v-1.8M637.25 86.5v1.8M646.4 160v-3M646.4 86.5v3M655.55 160v-1.8M655.55 86.5v1.8M372 155.7h1.8M655.6 155.7h-1.8M372 146.1h3M655.6 146.1h-3M372 136.5h1.8M655.6 136.5h-1.8M372 126.9h3M655.6 126.9h-3M372 117.3h1.8M655.6 117.3h-1.8M372 107.7h3M655.6 107.7h-3M372 98.1h1.8M655.6 98.1h-1.8M372 88.5h3M655.6 88.5h-3M381.15 243.5v-1.8M381.15 170v1.8M390.29 243.5v-1.8M390.29 170v1.8M399.44 243.5v-1.8M399.44 170v1.8M408.59 243.5v-1.8M408.59 170v1.8M417.73 243.5v-1.8M417.73 170v1.8M426.88 243.5v-1.8M426.88 170v1.8M436.03 243.5v-1.8M436.03 170v1.8M445.17 243.5v-1.8M445.17 170v1.8M454.32 243.5v-1.8M454.32 170v1.8M463.47 243.5v-3M463.47 170v3M472.61 243.5v-1.8M472.61 170v1.8M481.76 243.5v-1.8M481.76 170v1.8M490.91 243.5v-1.8M490.91 170v1.8M500.05 243.5v-1.8M500.05 170v1.8M509.2 243.5v-1.8M509.2 170v1.8M518.35 243.5v-1.8M518.35 170v1.8M527.49 243.5v-1.8M527.49 170v1.8M536.64 243.5v-1.8M536.64 170v1.8M545.79 243.5v-1.8M545.79 170v1.8M554.93 243.5v-3M554.93 170v3M564.08 243.5v-1.8M564.08 170v1.8M573.23 243.5v-1.8M573.23 170v1.8M582.37 243.5v-1.8M582.37 170v1.8M591.52 243.5v-1.8M591.52 170v1.8M600.67 243.5v-1.8M600.67 170v1.8M609.81 243.5v-1.8M609.81 170v1.8M618.96 243.5v-1.8M618.96 170v1.8M628.11 243.5v-1.8M628.11 170v1.8M637.25 243.5v-1.8M637.25 170v1.8M646.4 243.5v-3M646.4 170v3M655.55 243.5v-1.8M655.55 170v1.8M372 238.29h1.8M655.6 238.29h-1.8M372 232.82h1.8M655.6 232.82h-1.8M372 227.35h3M655.6 227.35h-3M372 221.88h1.8M655.6 221.88h-1.8M372 216.41h1.8M655.6 216.41h-1.8M372 210.94h1.8M655.6 210.94h-1.8M372 205.47h1.8M655.6 205.47h-1.8M372 200h3M655.6 200h-3M372 194.53h1.8M655.6 194.53h-1.8M372 189.06h1.8M655.6 189.06h-1.8M372 183.59h1.8M655.6 183.59h-1.8M372 178.12h1.8M655.6 178.12h-1.8M372 172.65h3M655.6 172.65h-3M381.15 327v-1.8M381.15 253.5v1.8M390.29 327v-1.8M390.29 253.5v1.8M399.44 327v-1.8M399.44 253.5v1.8M408.59 327v-1.8M408.59 253.5v1.8M417.73 327v-1.8M417.73 253.5v1.8M426.88 327v-1.8M426.88 253.5v1.8M436.03 327v-1.8M436.03 253.5v1.8M445.17 327v-1.8M445.17 253.5v1.8M454.32 327v-1.8M454.32 253.5v1.8M463.47 327v-3M463.47 253.5v3M472.61 327v-1.8M472.61 253.5v1.8M481.76 327v-1.8M481.76 253.5v1.8M490.91 327v-1.8M490.91 253.5v1.8M500.05 327v-1.8M500.05 253.5v1.8M509.2 327v-1.8M509.2 253.5v1.8M518.35 327v-1.8M518.35 253.5v1.8M527.49 327v-1.8M527.49 253.5v1.8M536.64 327v-1.8M536.64 253.5v1.8M545.79 327v-1.8M545.79 253.5v1.8M554.93 327v-3M554.93 253.5v3M564.08 327v-1.8M564.08 253.5v1.8M573.23 327v-1.8M573.23 253.5v1.8M582.37 327v-1.8M582.37 253.5v1.8M591.52 327v-1.8M591.52 253.5v1.8M600.67 327v-1.8M600.67 253.5v1.8M609.81 327v-1.8M609.81 253.5v1.8M618.96 327v-1.8M618.96 253.5v1.8M628.11 327v-1.8M628.11 253.5v1.8M637.25 327v-1.8M637.25 253.5v1.8M646.4 327v-3M646.4 253.5v3M655.55 327v-1.8M655.55 253.5v1.8M372 326h3M655.6 326h-3M372 319.2h1.8M655.6 319.2h-1.8M372 312.4h1.8M655.6 312.4h-1.8M372 305.6h1.8M655.6 305.6h-1.8M372 298.8h1.8M655.6 298.8h-1.8M372 292h3M655.6 292h-3M372 285.2h1.8M655.6 285.2h-1.8M372 278.4h1.8M655.6 278.4h-1.8M372 271.6h1.8M655.6 271.6h-1.8M372 264.8h1.8M655.6 264.8h-1.8M372 258h3M655.6 258h-3M381.15 411v-1.8M381.15 337.5v1.8M390.29 411v-1.8M390.29 337.5v1.8M399.44 411v-1.8M399.44 337.5v1.8M408.59 411v-1.8M408.59 337.5v1.8M417.73 411v-1.8M417.73 337.5v1.8M426.88 411v-1.8M426.88 337.5v1.8M436.03 411v-1.8M436.03 337.5v1.8M445.17 411v-1.8M445.17 337.5v1.8M454.32 411v-1.8M454.32 337.5v1.8M463.47 411v-3M463.47 337.5v3M472.61 411v-1.8M472.61 337.5v1.8M481.76 411v-1.8M481.76 337.5v1.8M490.91 411v-1.8M490.91 337.5v1.8M500.05 411v-1.8M500.05 337.5v1.8M509.2 411v-1.8M509.2 337.5v1.8M518.35 411v-1.8M518.35 337.5v1.8M527.49 411v-1.8M527.49 337.5v1.8M536.64 411v-1.8M536.64 337.5v1.8M545.79 411v-1.8M545.79 337.5v1.8M554.93 411v-3M554.93 337.5v3M564.08 411v-1.8M564.08 337.5v1.8M573.23 411v-1.8M573.23 337.5v1.8M582.37 411v-1.8M582.37 337.5v1.8M591.52 411v-1.8M591.52 337.5v1.8M600.67 411v-1.8M600.67 337.5v1.8M609.81 411v-1.8M609.81 337.5v1.8M618.96 411v-1.8M618.96 337.5v1.8M628.11 411v-1.8M628.11 337.5v1.8M637.25 411v-1.8M637.25 337.5v1.8M646.4 411v-3M646.4 337.5v3M655.55 411v-1.8M655.55 337.5v1.8M372 407.7h3M655.6 407.7h-3M372 399.8h1.8M655.6 399.8h-1.8M372 391.9h3M655.6 391.9h-3M372 384h1.8M655.6 384h-1.8M372 376.1h3M655.6 376.1h-3M372 368.2h1.8M655.6 368.2h-1.8M372 360.3h3M655.6 360.3h-3M372 352.4h1.8M655.6 352.4h-1.8M372 344.5h3M655.6 344.5h-3" stroke="#333" stroke-width="0.9" fill="none"/>
<text x="39.8" y="8.95" text-anchor="end" class="tl">50</text>
<text x="39.8" y="43.45" text-anchor="end" class="tl">0</text>
<text x="39.8" y="77.95" text-anchor="end" class="tl">−50</text>
<text x="53" y="14.8" class="pl">KOI 709.01</text>
<text x="39.8" y="95.3" text-anchor="end" class="tl">100</text>
<text x="39.8" y="119.1" text-anchor="end" class="tl">0</text>
<text x="39.8" y="142.9" text-anchor="end" class="tl">−100</text>
<text x="53" y="98.3" class="pl">KOI 730.01</text>
<text x="181" y="98.3" class="pl">Kepler223d</text>
<text x="39.8" y="179.4" text-anchor="end" class="tl">100</text>
<text x="39.8" y="212.2" text-anchor="end" class="tl">0</text>
<text x="39.8" y="245" text-anchor="end" class="tl">−100</text>
<text x="53" y="181.8" class="pl">KOI 738.01</text>
<text x="181" y="181.8" class="pl">Kepler29b</text>
<text x="39.8" y="268.8" text-anchor="end" class="tl">40</text>
<text x="39.8" y="283.95" text-anchor="end" class="tl">20</text>
<text x="39.8" y="299.1" text-anchor="end" class="tl">0</text>
<text x="39.8" y="314.25" text-anchor="end" class="tl">−20</text>
<text x="39.8" y="329.4" text-anchor="end" class="tl">−40</text>
<text x="53" y="265.3" class="pl">KOI 746.01</text>
<text x="39.8" y="354.55" text-anchor="end" class="tl">50</text>
<text x="39.8" y="377.9" text-anchor="end" class="tl">0</text>
<text x="39.8" y="401.25" text-anchor="end" class="tl">−50</text>
<text x="53" y="349.3" class="pl">KOI 759.01</text>
<text x="181" y="349.3" class="pl">Kepler230b</text>
<text x="367.8" y="10.1" text-anchor="end" class="tl">20</text>
<text x="367.8" y="41.1" text-anchor="end" class="tl">0</text>
<text x="367.8" y="72.1" text-anchor="end" class="tl">−20</text>
<text x="381" y="14.8" class="pl">KOI 720.03</text>
<text x="509" y="14.8" class="pl">Kepler221e</text>
<text x="367.8" y="93.2" text-anchor="end" class="tl">200</text>
<text x="367.8" y="112.4" text-anchor="end" class="tl">100</text>
<text x="367.8" y="131.6" text-anchor="end" class="tl">0</text>
<text x="367.8" y="150.8" text-anchor="end" class="tl">−100</text>
<text x="381" y="98.3" class="pl">KOI 730.03</text>
<text x="509" y="98.3" class="pl">Kepler223e</text>
<text x="367.8" y="177.35" text-anchor="end" class="tl">100</text>
<text x="367.8" y="204.7" text-anchor="end" class="tl">0</text>
<text x="367.8" y="232.05" text-anchor="end" class="tl">−100</text>
<text x="381" y="181.8" class="pl">KOI 738.02</text>
<text x="509" y="181.8" class="pl">Kepler29c</text>
<text x="367.8" y="262.7" text-anchor="end" class="tl">50</text>
<text x="367.8" y="296.7" text-anchor="end" class="tl">0</text>
<text x="367.8" y="330.7" text-anchor="end" class="tl">−50</text>
<text x="381" y="265.3" class="pl">KOI 757.02</text>
<text x="509" y="265.3" class="pl">Kepler229d</text>
<text x="367.8" y="349.2" text-anchor="end" class="tl">4</text>
<text x="367.8" y="365" text-anchor="end" class="tl">2</text>
<text x="367.8" y="380.8" text-anchor="end" class="tl">0</text>
<text x="367.8" y="396.6" text-anchor="end" class="tl">−2</text>
<text x="367.8" y="412.4" text-anchor="end" class="tl">−4</text>
<text x="381" y="349.3" class="pl">KOI 760.01</text>
<text x="44" y="425.7" text-anchor="middle" class="tl">0</text>
<text x="135.67" y="425.7" text-anchor="middle" class="tl">500</text>
<text x="227.33" y="425.7" text-anchor="middle" class="tl">1000</text>
<text x="319" y="425.7" text-anchor="middle" class="tl">1500</text>
<text x="372" y="425.7" text-anchor="middle" class="tl">0</text>
<text x="463.47" y="425.7" text-anchor="middle" class="tl">500</text>
<text x="554.93" y="425.7" text-anchor="middle" class="tl">1000</text>
<text x="646.4" y="425.7" text-anchor="middle" class="tl">1500</text>
<text x="263" y="450.4" class="ax" textLength="194.5" lengthAdjust="spacingAndGlyphs">Time [BJD −2454900]</text>
<text transform="translate(14.6,247.2) scale(1.1,1) rotate(-90)" class="ax">O−C [min]</text>
</svg>
</body></html>
